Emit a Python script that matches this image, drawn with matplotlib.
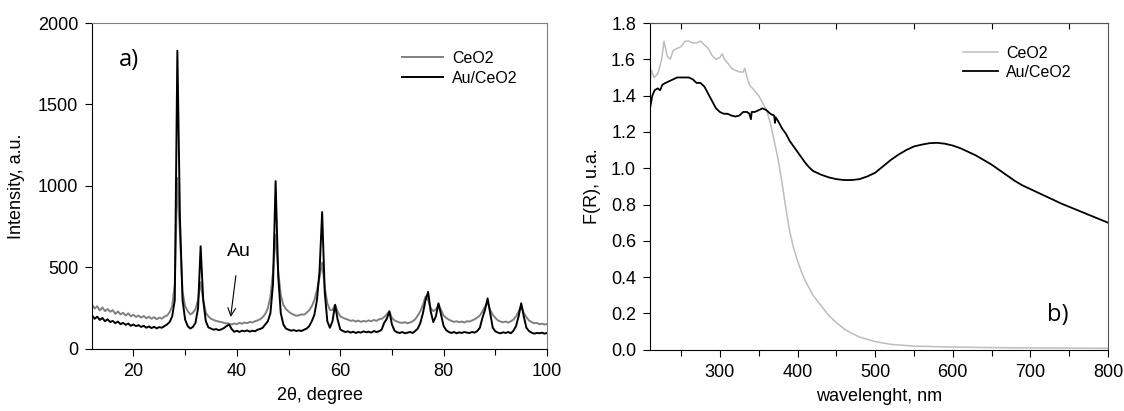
import numpy as np
import matplotlib.pyplot as plt
from matplotlib.ticker import MultipleLocator, FixedLocator

plt.rcParams['font.family'] = ['Liberation Sans', 'DejaVu Sans']

# ---- a) XRD, 2theta scan grid (0.5 deg steps from 12 to 100), 10 values per row
two_theta = np.arange(12.0, 100.5, 0.5)

xrd_ceo2 = [
    272, 248, 262, 236, 255, 232, 245, 228, 238, 215,    # 12 - 16.5
    230, 212, 222, 205, 218, 200, 210, 196, 205, 192,    # 17 - 21.5
    202, 188, 198, 185, 195, 182, 192, 186, 198, 205,    # 22 - 26.5
    225, 262, 400, 1050, 700, 350, 262, 232, 212, 222,   # 27 - 31.5
    245, 300, 410, 300, 222, 200, 185, 178, 172, 168,    # 32 - 36.5
    165, 160, 158, 155, 150, 156, 152, 160, 155, 162,    # 37 - 41.5
    158, 166, 162, 170, 175, 182, 195, 215, 250, 320,    # 42 - 46.5
    470, 700, 480, 330, 270, 245, 230, 218, 210, 204,    # 47 - 51.5
    206, 212, 210, 222, 238, 262, 300, 360, 440, 530,    # 52 - 56.5
    380, 280, 240, 238, 272, 230, 200, 192, 185, 180,    # 57 - 61.5
    172, 176, 168, 174, 166, 172, 168, 175, 170, 178,    # 62 - 66.5
    172, 182, 185, 195, 212, 232, 190, 175, 168, 162,    # 67 - 71.5
    160, 164, 158, 162, 170, 182, 205, 232, 270, 322,    # 72 - 76.5
    300, 250, 232, 242, 272, 238, 205, 190, 180, 172,    # 77 - 81.5
    166, 170, 164, 168, 162, 170, 168, 175, 182, 192,    # 82 - 86.5
    205, 230, 260, 286, 240, 210, 190, 175, 168, 164,    # 87 - 91.5
    168, 162, 170, 180, 200, 230, 265, 220, 195, 175,    # 92 - 96.5
    165, 158, 160, 152, 155, 150, 152,                   # 97 - 100
]

xrd_au_ceo2 = [
    205, 185, 198, 178, 190, 170, 182, 165, 172, 158,
    168, 152, 160, 148, 156, 142, 150, 140, 146, 135,
    142, 130, 138, 128, 136, 126, 134, 130, 140, 150,
    165, 200, 300, 1830, 800, 300, 180, 140, 125, 135,
    160, 250, 630, 300, 170, 132, 125, 118, 122, 115,
    120, 128, 140, 150, 122, 105, 112, 104, 112, 108,
    114, 106, 112, 108, 118, 122, 130, 150, 170, 220,
    400, 1030, 450, 220, 150, 125, 118, 112, 116, 110,
    114, 110, 118, 125, 140, 170, 210, 300, 480, 840,
    350, 170, 130, 170, 270, 180, 120, 110, 104, 108,
    100, 106, 98, 104, 100, 108, 102, 106, 100, 110,
    104, 108, 118, 160, 185, 230, 150, 112, 102, 98,
    104, 96, 100, 104, 98, 110, 125, 160, 220, 300,
    350, 230, 165, 200, 280, 210, 140, 115, 104, 98,
    104, 96, 102, 98, 104, 100, 98, 104, 100, 110,
    130, 190, 240, 310, 220, 130, 108, 100, 96, 102,
    98, 104, 96, 112, 140, 200, 280, 200, 130, 110,
    100, 94, 98, 96, 100, 94, 98,
]

# ---- b) UV-vis DRS
wl_ceo2 = [210, 212, 215, 220, 225, 228, 232, 236, 240, 245, 250, 255, 260, 265,
           270, 275, 280, 285, 290, 295, 300, 303, 306, 310, 315, 320, 325, 330,
           332, 335, 338, 342, 346, 350, 355, 360, 365, 370, 375, 380, 385, 390,
           395, 400, 405, 410, 420, 430, 440, 450, 460, 470, 480, 500, 520, 550,
           600, 650, 700, 750, 800]
fr_ceo2 = [1.48, 1.54, 1.50, 1.52, 1.60, 1.70, 1.62, 1.60, 1.65, 1.66, 1.67, 1.70,
           1.70, 1.69, 1.69, 1.70, 1.68, 1.66, 1.62, 1.60, 1.61, 1.63, 1.60, 1.58,
           1.55, 1.54, 1.53, 1.53, 1.55, 1.50, 1.46, 1.44, 1.42, 1.40, 1.36, 1.32,
           1.25, 1.15, 1.05, 0.92, 0.78, 0.65, 0.56, 0.49, 0.43, 0.38, 0.30, 0.245,
           0.19, 0.15, 0.115, 0.09, 0.07, 0.045, 0.03, 0.02, 0.015, 0.012, 0.01,
           0.009, 0.008]

wl_au = [210, 213, 216, 220, 223, 226, 230, 235, 240, 245, 250, 255, 260, 265, 270,
         275, 280, 285, 290, 295, 300, 305, 310, 315, 320, 325, 330, 335, 338, 340,
         341, 345, 350, 355, 360, 365, 370, 371, 372, 375, 380, 385, 390, 395, 400,
         405, 410, 415, 420, 430, 440, 450, 460, 470, 480, 490, 500, 510, 520, 530,
         540, 550, 560, 570, 580, 590, 600, 610, 620, 630, 640, 650, 660, 670, 680,
         690, 700, 710, 720, 740, 760, 780, 800]
fr_au = [1.33, 1.40, 1.43, 1.44, 1.43, 1.46, 1.47, 1.48, 1.49, 1.50, 1.50, 1.50,
         1.50, 1.49, 1.47, 1.47, 1.45, 1.41, 1.37, 1.33, 1.31, 1.30, 1.30, 1.29,
         1.285, 1.29, 1.31, 1.31, 1.30, 1.27, 1.31, 1.31, 1.32, 1.33, 1.32, 1.30,
         1.29, 1.25, 1.28, 1.26, 1.22, 1.19, 1.15, 1.12, 1.09, 1.06, 1.03, 1.005,
         0.985, 0.965, 0.95, 0.94, 0.935, 0.935, 0.94, 0.955, 0.975, 1.01, 1.045,
         1.075, 1.10, 1.12, 1.13, 1.138, 1.14, 1.135, 1.125, 1.11, 1.09, 1.07, 1.045,
         1.02, 0.99, 0.96, 0.93, 0.905, 0.885, 0.865, 0.845, 0.805, 0.77, 0.735, 0.70]

fig = plt.figure(figsize=(11.24, 4.11), dpi=100)
ax1 = fig.add_axes([0.0819, 0.151, 0.4048, 0.793])
ax2 = fig.add_axes([0.5783, 0.149, 0.4075, 0.795])

# left panel
ax1.plot(two_theta, xrd_ceo2, color='#808080', lw=1.4, label='CeO2')
ax1.plot(two_theta, xrd_au_ceo2, color='black', lw=1.4, label='Au/CeO2')
ax1.set_xlim(12, 100)
ax1.set_ylim(0, 2000)
ax1.xaxis.set_major_locator(MultipleLocator(20))
ax1.xaxis.set_minor_locator(MultipleLocator(10))
ax1.yaxis.set_major_locator(MultipleLocator(500))
ax1.tick_params(axis='both', which='both', direction='out', top=False, right=False,
                labelsize=13, pad=5)
ax1.tick_params(which='major', length=5, width=0.8)
ax1.tick_params(which='minor', length=4, width=0.8)
for s in ['top', 'right']:
    ax1.spines[s].set_color('#808080')
ax1.set_xlabel('2θ, degree', fontsize=13, labelpad=5)
ax1.set_ylabel('Intensity, a.u.', fontsize=13, labelpad=9)
ax1.legend(loc='upper left', bbox_to_anchor=(0.681, 0.915), frameon=False, fontsize=11.5,
           handlelength=2.6, handletextpad=0.55, borderpad=0, borderaxespad=0,
           labelspacing=0.3)
ax1.text(0.082, 0.885, 'a)', transform=ax1.transAxes, fontsize=17, family='Open Sans',
         ha='center', va='center')
ax1.annotate('Au', xy=(38.8, 196), xytext=(40.4, 595), fontsize=14, ha='center',
             va='center', arrowprops=dict(arrowstyle='->', color='black', lw=0.8,
                                          shrinkA=9, shrinkB=0))

# right panel
ax2.plot(wl_ceo2, fr_ceo2, color='#bdbdbd', lw=1.1, label='CeO2')
ax2.plot(wl_au, fr_au, color='black', lw=1.3, label='Au/CeO2')
ax2.set_xlim(210, 800)
ax2.set_ylim(0, 1.8)
ax2.xaxis.set_major_locator(MultipleLocator(100))
ax2.xaxis.set_minor_locator(MultipleLocator(50))
ax2.yaxis.set_major_locator(MultipleLocator(0.2))
ax2.yaxis.set_major_formatter(plt.FormatStrFormatter('%.1f'))
ax2.tick_params(axis='both', which='both', direction='out', top=False, right=False,
                labelsize=13, pad=5)
ax2.tick_params(which='major', length=5, width=0.8)
ax2.tick_params(which='minor', length=4, width=0.8)
# inner ticks on the top edge
top = ax2.secondary_xaxis('top')
top.xaxis.set_major_locator(FixedLocator([250, 350, 450, 550, 650, 750]))
top.tick_params(direction='in', length=4, width=0.8, labeltop=False)
top.spines['top'].set_color('#555555')
for s in ['top', 'right']:
    ax2.spines[s].set_color('#555555')
ax2.set_xlabel('wavelenght, nm', fontsize=13, labelpad=5)
ax2.set_ylabel('F(R), u.a.', fontsize=13, labelpad=7)
ax2.legend(loc='upper left', bbox_to_anchor=(0.683, 0.93), frameon=False, fontsize=11.5,
           handlelength=2.2, handletextpad=0.5, borderpad=0, borderaxespad=0,
           labelspacing=0.25)
ax2.text(0.89, 0.105, 'b)', transform=ax2.transAxes, fontsize=17, family='Open Sans',
         ha='center', va='center')

fig.savefig('out.png', dpi=100)
